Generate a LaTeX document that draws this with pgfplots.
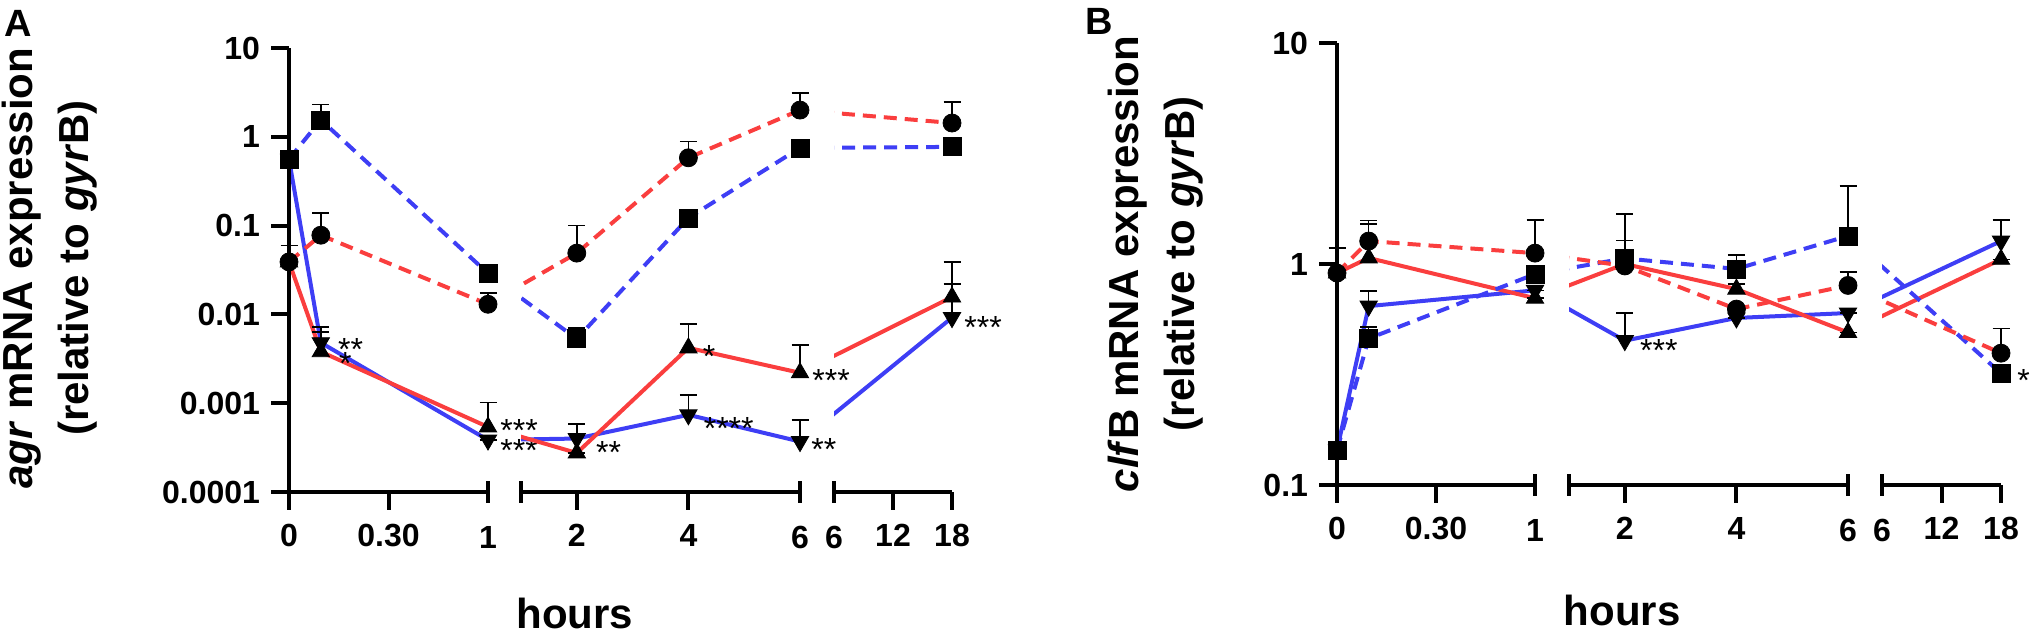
\documentclass[border=0pt]{standalone}
\usepackage{fontspec}
\setmainfont{Liberation Sans}
\usepackage{pgfplots}
\pgfplotsset{compat=1.18}
\definecolor{cred}{RGB}{250,62,62}
\definecolor{cblue}{RGB}{62,62,245}
\tikzset{ast/.style={anchor=base west, inner sep=0pt, font=\fontsize{16}{16}\selectfont}}
\pgfplotsset{
  zzbase/.style={scale only axis, anchor=south west, xminorticks=false, yminorticks=false,
    tick label style={font=\bfseries\fontsize{16}{16}\selectfont, text=black}},
  zzpost/.style={
    every outer x axis line/.append style={-}, every outer y axis line/.append style={-},
    every inner x axis line/.append style={-}, every inner y axis line/.append style={-},
    x axis line style={-}, y axis line style={-},
    axis line style={-, line width=2pt, black},
    tick style={line width=2pt, black},
    major tick length=9pt, tick align=outside,
    xticklabel style={yshift=-3.5pt}, yticklabel style={xshift=-2pt},
    extra x tick style={tick align=center, major tick length=11pt, tick label style={yshift=-4.5pt}}},
  zzlines/.style={zzbase, hide axis},
  zzmarks/.style={zzbase, clip=false},
  zzsegA/.style={ymin=1e-4, ymax=10, height=222pt, ytick={1e-4,1e-3,1e-2,1e-1,1,10}, yticklabels={0.0001,0.001,0.01,0.1,1,10}},
  zzsegB/.style={ymin=0.1, ymax=10, height=221pt, ytick={0.1,1,10}, yticklabels={0.1,1,10}},
  zzone/.style={axis x line=bottom, axis y line=left, xmin=0, xmax=1, xtick={0,0.5}, xticklabels={0,0.30}, extra x ticks={1}, extra x tick labels={1}, zzpost},
  zztwo/.style={axis x line=bottom, axis y line=none, xmin=1, xmax=6, ytick=\empty, xtick={2,4}, xticklabels={2,4}, extra x ticks={1,6}, extra x tick labels={,6}, zzpost},
  zzthree/.style={axis x line=bottom, axis y line=none, xmin=6, xmax=18, ytick=\empty, xtick={12,18}, xticklabels={12,18}, extra x ticks={6}, extra x tick labels={6}, zzpost},
  lSa/.style={cblue, line width=2pt, dash pattern=on 6.5pt off 4pt, no marks},
  lSb/.style={cred, line width=2pt, dash pattern=on 6.5pt off 4pt, no marks},
  lSc/.style={cred, line width=2pt, no marks},
  lSd/.style={cblue, line width=2pt, no marks},
  mSa/.style={only marks, mark=square*, mark size=4.5pt, black},
  mSb/.style={only marks, mark=*, mark size=4.5pt, black},
  mSc/.style={only marks, mark=triangle*, mark size=5pt, black},
  mSd/.style={only marks, mark=triangle*, mark size=5pt, mark options={rotate=180}, black},
  error bars/y dir=plus, error bars/y explicit,
  error bars/error bar style={line width=0.75pt, black},
  error bars/error mark options={rotate=90, line width=0.75pt, mark size=4.25pt, black},
}
\begin{document}
\begin{tikzpicture}
\path[use as bounding box] (0,0) rectangle (1016pt,319pt);
% ================= Panel A =================
\begin{semilogyaxis}[zzlines, zzsegA, zzone, at={(144.5pt,73pt)}, width=99.5pt]
\addplot[lSd] table[row sep=\\]{x y\\ 0 0.56\\ 0.16 0.0048\\ 1 0.000385\\};
\addplot[lSc] table[row sep=\\]{x y\\ 0 0.039\\ 0.16 0.0038\\ 1 0.00054\\};
\addplot[lSa] table[row sep=\\]{x y\\ 0 0.56\\ 0.16 1.55\\ 1 0.029\\};
\addplot[lSb] table[row sep=\\]{x y\\ 0 0.039\\ 0.16 0.078\\ 1 0.013\\};
\end{semilogyaxis}
\begin{semilogyaxis}[zzmarks, zzsegA, zzone, at={(144.5pt,73pt)}, width=99.5pt]
\addplot[mSd] table[row sep=\\, x=x, y=y, y error=e]{x y e\\ 0 0.56 0\\ 0.16 0.0048 0.0024\\ 1 0.000385 0\\};
\addplot[mSc] table[row sep=\\, x=x, y=y, y error=e]{x y e\\ 0 0.039 0\\ 0.16 0.0038 0.0025\\ 1 0.00054 0.00048\\};
\addplot[mSb] table[row sep=\\, x=x, y=y, y error=e]{x y e\\ 0 0.039 0.021\\ 0.16 0.078 0.06\\ 1 0.013 0.0044\\};
\addplot[mSa] table[row sep=\\, x=x, y=y, y error=e]{x y e\\ 0 0.56 0\\ 0.16 1.55 0.75\\ 1 0.029 0\\};
\node[ast, xshift=8.5pt, yshift=-8.7pt] at (axis cs:0.16,0.0048) {**};
\node[ast, xshift=9pt, yshift=-11.2pt] at (axis cs:0.16,0.0038) {*};
\node[ast, xshift=6pt, yshift=-7.2pt] at (axis cs:1,0.00054) {***};
\node[ast, xshift=6pt, yshift=-10.7pt] at (axis cs:1,0.000385) {***};
\end{semilogyaxis}
\begin{semilogyaxis}[zzlines, zzsegA, zztwo, at={(260.5pt,73pt)}, width=139.5pt]
\addplot[lSd] table[row sep=\\]{x y\\ 0.40 0.000385\\ 2 0.0004\\ 4 0.00074\\ 6 0.00037\\};
\addplot[lSc] table[row sep=\\]{x y\\ 0.40 0.00054\\ 2 0.000275\\ 4 0.0042\\ 6 0.0022\\};
\addplot[lSa] table[row sep=\\]{x y\\ 0.40 0.029\\ 2 0.0053\\ 4 0.122\\ 6 0.75\\};
\addplot[lSb] table[row sep=\\]{x y\\ 0.40 0.013\\ 2 0.049\\ 4 0.58\\ 6 2.0\\};
\end{semilogyaxis}
\begin{semilogyaxis}[zzmarks, zzsegA, zztwo, at={(260.5pt,73pt)}, width=139.5pt]
\addplot[mSd] table[row sep=\\, x=x, y=y, y error=e]{x y e\\ 2 0.0004 0.00018\\ 4 0.00074 0.0005\\ 6 0.00037 0.00028\\};
\addplot[mSc] table[row sep=\\, x=x, y=y, y error=e]{x y e\\ 2 0.000275 0\\ 4 0.0042 0.0036\\ 6 0.0022 0.0023\\};
\addplot[mSb] table[row sep=\\, x=x, y=y, y error=e]{x y e\\ 2 0.049 0.051\\ 4 0.58 0.31\\ 6 2.0 1.1\\};
\addplot[mSa] table[row sep=\\, x=x, y=y, y error=e]{x y e\\ 2 0.0053 0.0017\\ 4 0.122 0\\ 6 0.75 0.17\\};
\node[ast, xshift=9.5pt, yshift=-12.7pt] at (axis cs:2,0.0004) {**};
\node[ast, xshift=7.5pt, yshift=-12.2pt] at (axis cs:4,0.00074) {****};
\node[ast, xshift=5.5pt, yshift=-9.7pt] at (axis cs:6,0.00037) {**};
\node[ast, xshift=7pt, yshift=-9.7pt] at (axis cs:4,0.0042) {*};
\node[ast, xshift=6pt, yshift=-9.2pt] at (axis cs:6,0.0022) {***};
\end{semilogyaxis}
\begin{semilogyaxis}[zzlines, zzsegA, zzthree, at={(417pt,73pt)}, width=59pt]
\addplot[lSd] table[row sep=\\]{x y\\ 2.55 0.00037\\ 18 0.0092\\};
\addplot[lSc] table[row sep=\\]{x y\\ 2.55 0.0022\\ 18 0.0157\\};
\addplot[lSa] table[row sep=\\]{x y\\ 2.55 0.75\\ 18 0.77\\};
\addplot[lSb] table[row sep=\\]{x y\\ 2.55 2.0\\ 18 1.43\\};
\end{semilogyaxis}
\begin{semilogyaxis}[zzmarks, zzsegA, zzthree, at={(417pt,73pt)}, width=59pt]
\addplot[mSd] table[row sep=\\, x=x, y=y, y error=e]{x y e\\ 18 0.0092 0.0128\\};
\addplot[mSc] table[row sep=\\, x=x, y=y, y error=e]{x y e\\ 18 0.0157 0.023\\};
\addplot[mSb] table[row sep=\\, x=x, y=y, y error=e]{x y e\\ 18 1.43 1.03\\};
\addplot[mSa] table[row sep=\\, x=x, y=y, y error=e]{x y e\\ 18 0.77 0\\};
\node[ast, xshift=6pt, yshift=-10.2pt] at (axis cs:18,0.0092) {***};
\end{semilogyaxis}
% ================= Panel B =================
\begin{semilogyaxis}[zzlines, zzsegB, zzone, at={(668.5pt,76.5pt)}, width=99pt]
\addplot[lSd] table[row sep=\\]{x y\\ 0 0.144\\ 0.16 0.645\\ 1 0.76\\};
\addplot[lSc] table[row sep=\\]{x y\\ 0 0.91\\ 0.16 1.065\\ 1 0.70\\};
\addplot[lSa] table[row sep=\\]{x y\\ 0 0.144\\ 0.16 0.46\\ 1 0.90\\};
\addplot[lSb] table[row sep=\\]{x y\\ 0 0.91\\ 0.16 1.27\\ 1 1.12\\};
\end{semilogyaxis}
\begin{semilogyaxis}[zzmarks, zzsegB, zzone, at={(668.5pt,76.5pt)}, width=99pt]
\addplot[mSd] table[row sep=\\, x=x, y=y, y error=e]{x y e\\ 0 0.144 0\\ 0.16 0.645 0.11\\ 1 0.76 0\\};
\addplot[mSc] table[row sep=\\, x=x, y=y, y error=e]{x y e\\ 0 0.91 0\\ 0.16 1.065 0.45\\ 1 0.70 0\\};
\addplot[mSb] table[row sep=\\, x=x, y=y, y error=e]{x y e\\ 0 0.91 0.27\\ 0.16 1.27 0.30\\ 1 1.12 0.46\\};
\addplot[mSa] table[row sep=\\, x=x, y=y, y error=e]{x y e\\ 0 0.144 0\\ 0.16 0.46 0.06\\ 1 0.90 0\\};
\end{semilogyaxis}
\begin{semilogyaxis}[zzlines, zzsegB, zztwo, at={(784.5pt,76.5pt)}, width=139.5pt]
\addplot[lSd] table[row sep=\\]{x y\\ 0.40 0.76\\ 2 0.45\\ 4 0.57\\ 6 0.60\\};
\addplot[lSc] table[row sep=\\]{x y\\ 0.40 0.70\\ 2 1.0\\ 4 0.77\\ 6 0.49\\};
\addplot[lSa] table[row sep=\\]{x y\\ 0.40 0.90\\ 2 1.06\\ 4 0.95\\ 6 1.34\\};
\addplot[lSb] table[row sep=\\]{x y\\ 0.40 1.12\\ 2 0.98\\ 4 0.625\\ 6 0.80\\};
\end{semilogyaxis}
\begin{semilogyaxis}[zzmarks, zzsegB, zztwo, at={(784.5pt,76.5pt)}, width=139.5pt]
\addplot[mSd] table[row sep=\\, x=x, y=y, y error=e]{x y e\\ 2 0.45 0.15\\ 4 0.57 0\\ 6 0.60 0\\};
\addplot[mSc] table[row sep=\\, x=x, y=y, y error=e]{x y e\\ 2 1.0 0\\ 4 0.77 0.04\\ 6 0.49 0\\};
\addplot[mSb] table[row sep=\\, x=x, y=y, y error=e]{x y e\\ 2 0.98 0.30\\ 4 0.625 0\\ 6 0.80 0.12\\};
\addplot[mSa] table[row sep=\\, x=x, y=y, y error=e]{x y e\\ 2 1.06 0.62\\ 4 0.95 0.15\\ 6 1.34 0.91\\};
\node[ast, xshift=7.5pt, yshift=-10.2pt] at (axis cs:2,0.45) {***};
\end{semilogyaxis}
\begin{semilogyaxis}[zzlines, zzsegB, zzthree, at={(941pt,76.5pt)}, width=59.5pt]
\addplot[lSd] table[row sep=\\]{x y\\ 2.55 0.60\\ 18 1.27\\};
\addplot[lSc] table[row sep=\\]{x y\\ 2.55 0.49\\ 18 1.05\\};
\addplot[lSa] table[row sep=\\]{x y\\ 2.55 1.34\\ 18 0.32\\};
\addplot[lSb] table[row sep=\\]{x y\\ 2.55 0.80\\ 18 0.395\\};
\end{semilogyaxis}
\begin{semilogyaxis}[zzmarks, zzsegB, zzthree, at={(941pt,76.5pt)}, width=59.5pt]
\addplot[mSd] table[row sep=\\, x=x, y=y, y error=e]{x y e\\ 18 1.27 0.31\\};
\addplot[mSc] table[row sep=\\, x=x, y=y, y error=e]{x y e\\ 18 1.05 0\\};
\addplot[mSb] table[row sep=\\, x=x, y=y, y error=e]{x y e\\ 18 0.395 0.115\\};
\addplot[mSa] table[row sep=\\, x=x, y=y, y error=e]{x y e\\ 18 0.32 0\\};
\node[ast, xshift=8pt, yshift=-9.2pt] at (axis cs:18,0.32) {*};
\end{semilogyaxis}
% ================= Labels =================
\node[rotate=90, align=center, font=\bfseries\fontsize{21}{28}\selectfont] at (24.75pt,185pt)
  {\textit{agr} mRNA expression\\(relative to \textit{gyr}B)};
\node[rotate=90, align=center, font=\bfseries\fontsize{21}{28}\selectfont] at (578pt,187pt)
  {\textit{clf}B mRNA expression\\(relative to \textit{gyr}B)};
\node[font=\bfseries\fontsize{21}{21}\selectfont] at (287.5pt,12.5pt) {hours};
\node[font=\bfseries\fontsize{21}{21}\selectfont] at (811pt,14pt) {hours};
\node[font=\bfseries\fontsize{19}{19}\selectfont] at (9pt,307.5pt) {A};
\node[font=\bfseries\fontsize{19}{19}\selectfont] at (549.5pt,308.5pt) {B};
\end{tikzpicture}
\end{document}
